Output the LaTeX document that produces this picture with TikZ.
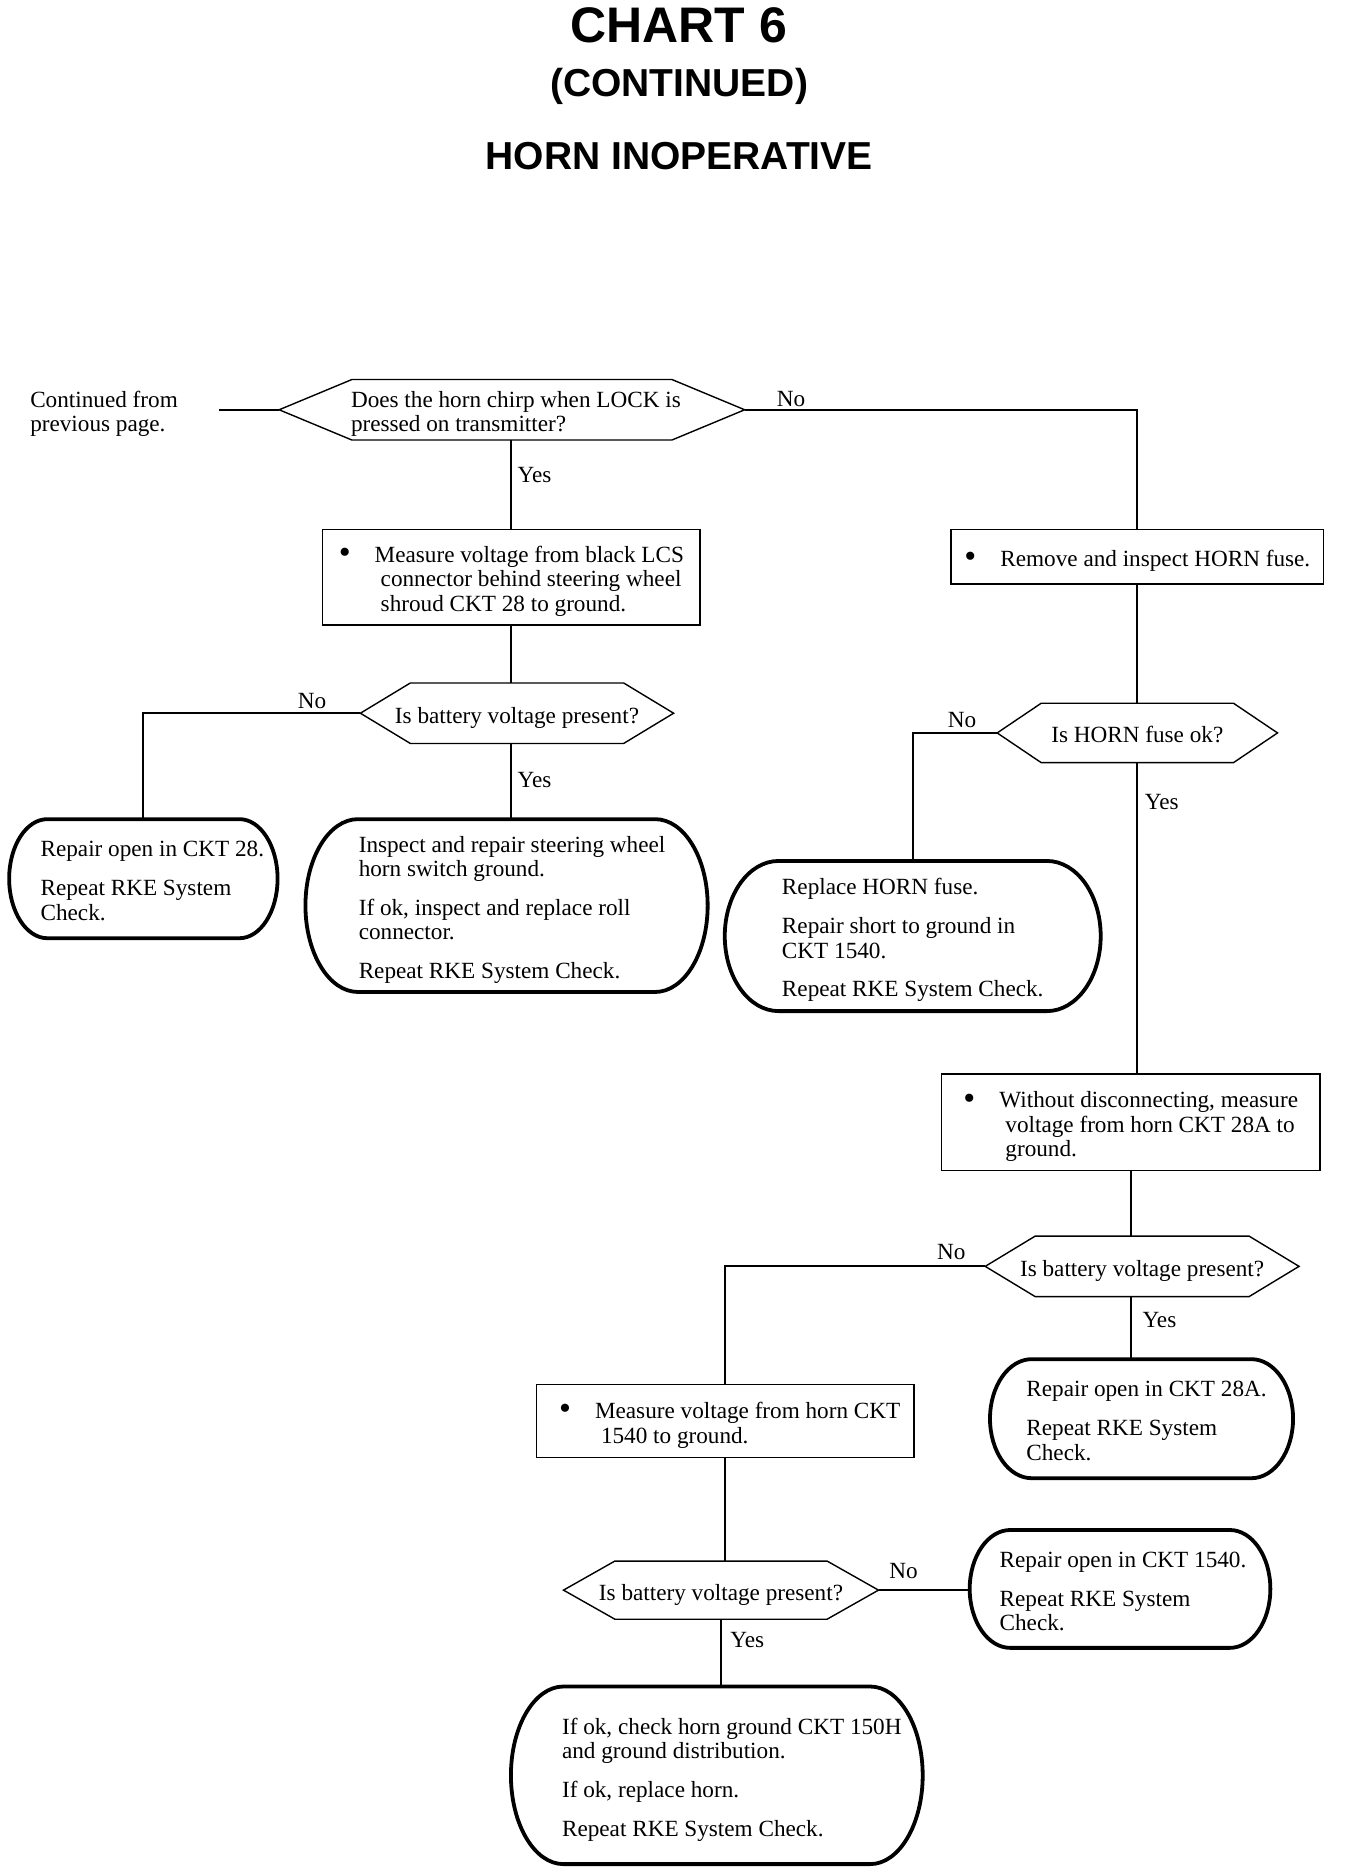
\documentclass[tikz,border=0pt]{standalone}
\usepackage{fontspec}
\setmainfont{Liberation Serif}
\newfontfamily\titlefont{Liberation Sans}
\usetikzlibrary{calc}
\newcommand\lines[1]{\raisebox{0pt}[\dimexpr\height+5pt\relax][\depth]{\begin{tabular}{@{}l@{}}#1\end{tabular}}}
\newcommand\hexout[2]{\draw[shapeline] (#1.west) -- ([xshift=#2]#1.north west) -- ([xshift=-#2]#1.north east) -- (#1.east) -- ([xshift=-#2]#1.south east) -- ([xshift=#2]#1.south west) -- cycle;}
\newcommand\termout[2]{\draw[termline] let \p1=(#1.north west), \p2=(#1.south east), \n1={0.5*(\y1-\y2)}, \n2={#2*0.5975pt} in (\x1+\n2,\y1) -- (\x2-\n2,\y1) arc[start angle=90,end angle=-90,x radius=\n2,y radius=\n1] -- (\x1+\n2,\y2) arc[start angle=270,end angle=90,x radius=\n2,y radius=\n1] -- cycle;}
\newcommand\bul{\makebox[18pt][l]{\raisebox{-0.6pt}{\fontsize{17}{17}\selectfont\textbullet}}}
\tikzset{
  shapeline/.style={line width=0.7pt},
  termline/.style={line width=1.9pt, line join=round},
  conn/.style={line width=0.9pt},
  rectbox/.style={draw, line width=0.7pt, inner sep=0pt},
  plainbox/.style={inner sep=0pt},
  lbl/.style={inner sep=0pt, anchor=base west},
  sz/.style 2 args={minimum width=#1*0.5975pt, minimum height=#2*0.5975pt},
  ttl/.style={inner sep=0pt, font=\titlefont\bfseries\fontsize{#1}{#1}\selectfont},
}
\begin{document}
\begin{tikzpicture}[x=0.5975pt, y=-0.5975pt, font=\fontsize{11.6}{12.2}\selectfont]
\useasboundingbox (0,0) rectangle (1125,1570.3);

% titles
\node[ttl=25] (title) at (568,21) {CHART 6};
\node[ttl=19.5] (sub) at (568.5,72) {(CONTINUED)};
\node[ttl=19.5] (head) at (568.5,131) {HORN INOPERATIVE};

% start
\node[plainbox, anchor=west] (cont) at (25,343) {\lines{Continued from\\previous page.}};
\coordinate (cstart) at (183,343);

% shapes
\node[plainbox, sz={389}{50}] (h1) at (428.5,343) {\hspace{4pt}\lines{Does the horn chirp when LOCK is\\pressed on transmitter?}};
\hexout{h1}{36.4pt}

\node[rectbox, sz={316}{80}] (b1) at (428,483) {\lines{\bul Measure voltage from black LCS\\ \hspace{21pt}connector behind steering wheel\\ \hspace{21pt}shroud CKT 28 to ground.}};

\node[rectbox, sz={312}{46}] (b2) at (952,466) {\lines{\bul Remove and inspect HORN fuse.}};

\node[plainbox, sz={261.5}{50}] (h2) at (432.75,597) {\lines{Is battery voltage present?}};
\hexout{h2}{25pt}

\node[plainbox, sz={224}{99}] (t3) at (120,735.5) {\hspace{9pt}\lines{Repair open in CKT 28.\\[7.2pt]Repeat RKE System\\Check.}};
\termout{t3}{32}

\node[plainbox, sz={336}{144}] (t4) at (424,758) {\hspace{5.5pt}\lines{Inspect and repair steering wheel\\horn switch ground.\\[7.2pt]If ok, inspect and replace roll\\connector.\\[7.2pt]Repeat RKE System Check.}};
\termout{t4}{44}

\node[plainbox, sz={234}{49}] (h3) at (952,613.5) {\lines{Is HORN fuse ok?}};
\hexout{h3}{22pt}

\node[plainbox, sz={314}{125}] (t5) at (764,783.5) {\lines{Replace HORN fuse.\\[7.2pt]Repair short to ground in\\CKT 1540.\\[7.2pt]Repeat RKE System Check.}};
\termout{t5}{45}

\node[rectbox, sz={317}{81}] (b6) at (946.5,939.5) {\lines{\bul Without disconnecting, measure\\ \hspace{21pt}voltage from horn CKT 28A to\\ \hspace{21pt}ground.}};

\node[plainbox, sz={262}{50}] (h4) at (956,1060) {\lines{Is battery voltage present?}};
\hexout{h4}{25pt}

\node[plainbox, sz={253}{99}] (t8) at (955.5,1187.5) {\hspace{5pt}\lines{Repair open in CKT 28A.\\[7.2pt]Repeat RKE System\\Check.}};
\termout{t8}{35}

\node[rectbox, sz={316}{61}] (b7) at (607,1189.5) {\hspace{4.5pt}\lines{\bul Measure voltage from horn CKT\\ \hspace{21pt}1540 to ground.}};

\node[plainbox, sz={263}{48}] (h5) at (603.5,1331) {\lines{Is battery voltage present?}};
\hexout{h5}{25.7pt}

\node[plainbox, sz={251}{98}] (t9) at (937.5,1330) {\hspace{3pt}\lines{Repair open in CKT 1540.\\[7.2pt]Repeat RKE System\\Check.}};
\termout{t9}{34}

\node[plainbox, sz={344}{148}] (t10) at (600,1486) {\hspace{15pt}\lines{If ok, check horn ground CKT 150H\\and ground distribution.\\[7.2pt]If ok, replace horn.\\[7.2pt]Repeat RKE System Check.}};
\termout{t10}{44}

% connectors
\draw[conn] (cstart) -- (h1.west);
\draw[conn] (b1.north |- h1.south) -- (b1.north);
\draw[conn] (h1.east) -- (b2.north |- h1.east) -- (b2.north);
\draw[conn] (b1.south) -- (b1.south |- h2.north);
\draw[conn] (h2.west) -- (t3.north |- h2.west) -- (t3.north);
\draw[conn] (h2.south -| b1.south) -- (t4.north -| b1.south);
\draw[conn] (b2.south) -- (h3.north);
\draw[conn] (h3.west) -- (t5.north |- h3.west) -- (t5.north);
\draw[conn] (h3.south) -- (h3.south |- b6.north);
\draw[conn] (b6.south) -- (b6.south |- h4.north);
\draw[conn] (h4.west) -- (b7.north |- h4.west) -- (b7.north);
\draw[conn] (h4.south -| b6.south) -- (t8.north -| b6.south);
\draw[conn] (b7.south) -- (b7.south |- h5.north);
\draw[conn] (h5.east) -- (h5.east -| t9.west);
\draw[conn] (h5.south) -- (h5.south |- t10.north);

% labels
\node[lbl] (n1) at (650,340) {No};
\node[lbl] (y1) at (433,404) {Yes};
\node[lbl] (n2) at (249,593) {No};
\node[lbl] (y2) at (433,659) {Yes};
\node[lbl] (n3) at (793,609) {No};
\node[lbl] (y3) at (958,678) {Yes};
\node[lbl] (n4) at (784,1054) {No};
\node[lbl] (y4) at (956,1111) {Yes};
\node[lbl] (n5) at (744,1321) {No};
\node[lbl] (y5) at (611,1379) {Yes};
\end{tikzpicture}
\end{document}
